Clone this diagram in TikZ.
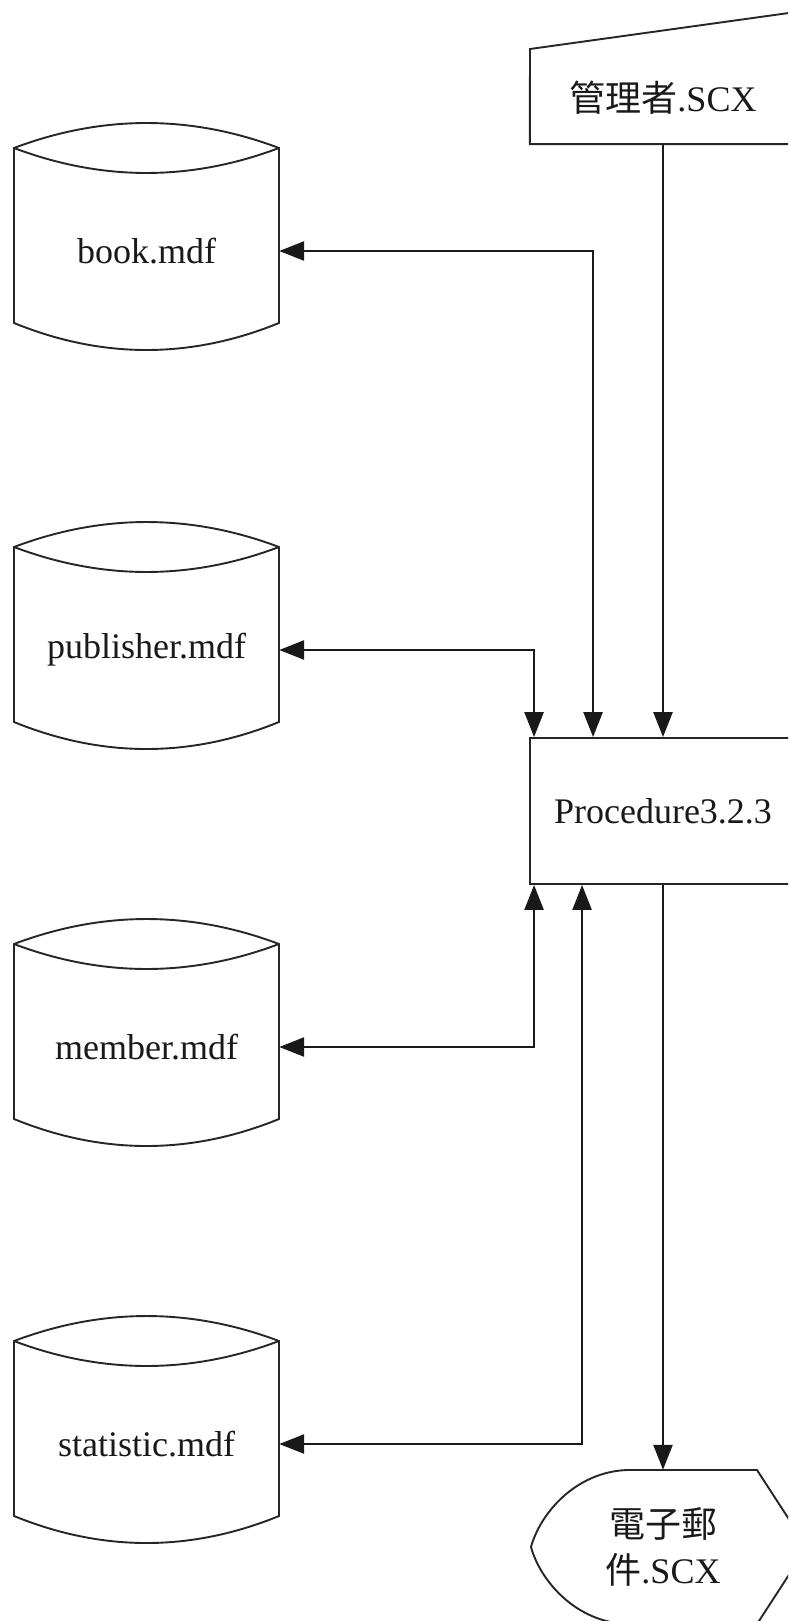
\documentclass[tikz,border=0pt]{standalone}
\usepackage{fontspec}
\setmainfont{Liberation Serif}
\newfontfamily\cjk{Noto Sans CJK TC}
\usetikzlibrary{arrows.meta}
\begin{document}
\begin{tikzpicture}[x=1pt,y=-1pt,
  shp/.style={draw=black!85, line width=1.9pt, line join=miter},
  lbl/.style={inner sep=0pt, text=black!90, font=\fontsize{36}{46}\selectfont},
  conn/.style={line width=2.5pt, draw=black!90, -{Triangle[length=25pt,width=19pt]}},
  biconn/.style={line width=2.5pt, draw=black!90, {Triangle[length=25pt,width=19pt]}-{Triangle[length=25pt,width=19pt]}}]
\useasboundingbox (0,0) rectangle (788,1621);
\fill[white] (0,0) rectangle (788,1621);
\clip (0,0) rectangle (788,1621);
% databases
\foreach \n/\t/\lab in {book/123/book.mdf, publisher/522/publisher.mdf, member/919/member.mdf, statistic/1316/statistic.mdf}{
  \draw[shp] (14,{\t+25}) .. controls (102.3,{\t-8.3}) and (190.7,{\t-8.3}) .. (279,{\t+25}) -- (279,{\t+200}) .. controls (190.7,{\t+236}) and (102.3,{\t+236}) .. (14,{\t+200}) -- cycle;
  \draw[shp] (14,{\t+25}) .. controls (102.3,{\t+58.3}) and (190.7,{\t+58.3}) .. (279,{\t+25});
  \node[lbl, minimum width=265pt] (\n) at (146.5,{\t+128}) {\lab};
}
% manual input
\node[lbl, minimum width=266pt, minimum height=92pt] (mgr) at (663,98) {{\cjk 管理者}.SCX};
\draw[shp] (mgr.south west) -- (530,49) -- (796,12) -- (mgr.south east) -- cycle;
% procedure
\node[lbl, shp, minimum width=266pt, minimum height=146pt] (proc) at (663,811) {Procedure3.2.3};
% display
\node[lbl, align=center, minimum width=266pt, minimum height=154pt] (mail) at (663,1547) {{\cjk 電子郵}\\{\cjk 件}.SCX};
\draw[shp] (627,1470) -- (757,1470) -- (807,1547) -- (757,1624) -- (627,1624) .. controls (575,1622) and (540,1580) .. (531,1547) .. controls (540,1514) and (575,1472) .. (627,1470);
% connectors
\draw[conn] (mgr.south) -- (proc.north);
\draw[biconn] (book.east) -| ([xshift=64pt]proc.north west);
\draw[biconn] (publisher.east) -| ([xshift=5pt]proc.north west);
\draw[biconn] (member.east) -| ([xshift=5pt]proc.south west);
\draw[biconn] (statistic.east) -| ([xshift=53pt]proc.south west);
\draw[conn] (proc.south) -- (mail.north);
\end{tikzpicture}
\end{document}
